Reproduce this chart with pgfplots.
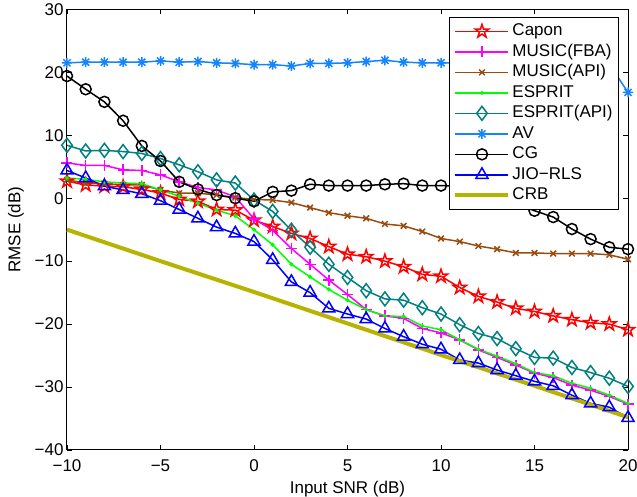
\documentclass[border=0pt]{standalone}
\usepackage{fontspec}
\setmainfont{Liberation Sans}
\usepackage{pgfplots}
\pgfplotsset{compat=1.18}
\usetikzlibrary{plotmarks}
\definecolor{cCapon}{rgb}{1,0,0}
\definecolor{cFBA}{rgb}{1,0,1}
\definecolor{cMAPI}{rgb}{0.6,0.3,0.05}
\definecolor{cESP}{rgb}{0,1,0}
\definecolor{cEAPI}{rgb}{0,0.5,0.5}
\definecolor{cAV}{rgb}{0.08,0.52,1}
\definecolor{cCRB}{rgb}{0.72,0.70,0.0}
\pgfdeclareplotmark{ast8}{%
  \pgfpathmoveto{\pgfqpoint{0pt}{\pgfplotmarksize}}\pgfpathlineto{\pgfqpoint{0pt}{-\pgfplotmarksize}}%
  \pgfpathmoveto{\pgfqpoint{\pgfplotmarksize}{0pt}}\pgfpathlineto{\pgfqpoint{-\pgfplotmarksize}{0pt}}%
  \pgfpathmoveto{\pgfqpoint{.707\pgfplotmarksize}{.707\pgfplotmarksize}}\pgfpathlineto{\pgfqpoint{-.707\pgfplotmarksize}{-.707\pgfplotmarksize}}%
  \pgfpathmoveto{\pgfqpoint{-.707\pgfplotmarksize}{.707\pgfplotmarksize}}\pgfpathlineto{\pgfqpoint{.707\pgfplotmarksize}{-.707\pgfplotmarksize}}%
  \pgfusepathqstroke}
\pgfdeclareplotmark{pentagram}{%
  \pgfpathmoveto{\pgfqpoint{0pt}{1\pgfplotmarksize}}%
  \pgfpathlineto{\pgfqpoint{-0.2245\pgfplotmarksize}{0.3090\pgfplotmarksize}}%
  \pgfpathlineto{\pgfqpoint{-0.9511\pgfplotmarksize}{0.3090\pgfplotmarksize}}%
  \pgfpathlineto{\pgfqpoint{-0.3633\pgfplotmarksize}{-0.1180\pgfplotmarksize}}%
  \pgfpathlineto{\pgfqpoint{-0.5878\pgfplotmarksize}{-0.8090\pgfplotmarksize}}%
  \pgfpathlineto{\pgfqpoint{0pt}{-0.382\pgfplotmarksize}}%
  \pgfpathlineto{\pgfqpoint{0.5878\pgfplotmarksize}{-0.8090\pgfplotmarksize}}%
  \pgfpathlineto{\pgfqpoint{0.3633\pgfplotmarksize}{-0.1180\pgfplotmarksize}}%
  \pgfpathlineto{\pgfqpoint{0.9511\pgfplotmarksize}{0.3090\pgfplotmarksize}}%
  \pgfpathlineto{\pgfqpoint{0.2245\pgfplotmarksize}{0.3090\pgfplotmarksize}}%
  \pgfpathclose
  \pgfusepathqstroke}
\begin{document}
\begin{tikzpicture}
\begin{axis}[
  name=ax, at={(0,0)}, anchor=south west,
  scale only axis, width=561pt, height=440.7pt,
  font=\fontsize{17}{20}\selectfont,
  xmin=-10, xmax=20, ymin=-40, ymax=30,
  xtick={-10,-5,0,5,10,15,20},
  xticklabels={−10,−5,0,5,10,15,20},
  ytick={-40,-30,-20,-10,0,10,20,30},
  yticklabels={−40,−30,−20,−10,0,10,20,30},
  xticklabel style={anchor=base, yshift=-21.7pt},
  axis line style={line width=1pt, black},
  tick style={line width=0.9pt, black},
  major tick length=5pt,
  xlabel={Input SNR (dB)},
  ylabel={RMSE (dB)},
  xlabel style={at={(axis description cs:0.5,0)}, anchor=base, yshift=-43.3pt},
  ylabel style={at={(axis description cs:-0.0909,0.5)}, anchor=center},
  clip=false,
  every axis plot/.append style={line width=1.5pt},
  legend image code/.code={\draw[mark repeat=2,mark phase=2,#1] plot coordinates {(0pt,0pt) (26.5pt,0pt) (53pt,0pt)};},
  legend cell align=left,
  legend style={at={(1,1)}, anchor=north east, xshift=-9pt, yshift=-7.4pt,
    draw=black, line width=0.8pt, inner sep=4pt, row sep=0pt,
    font=\fontsize{17}{20}\selectfont,
    nodes={inner sep=2pt, text height=12.5pt, text depth=4pt}},
]
\addplot[color=cCapon, mark=pentagram, mark size=7pt] coordinates {
(-10,2.7) (-9,2.1) (-8,1.9) (-7,1.8) (-6,1.4) (-5,0.8) (-4,-0.2) (-3,-0.5) (-2,-1.8) (-1,-1.9)
(0,-3.5) (1,-4.5) (2,-5.6) (3,-6.4) (4,-7.7) (5,-8.9) (6,-9.3) (7,-10.0) (8,-10.9) (9,-12.1)
(10,-12.4) (11,-14.2) (12,-15.6) (13,-16.5) (14,-17.5) (15,-18.0) (16,-18.7) (17,-19.3) (18,-19.8) (19,-20.0) (20,-20.9)};
\addlegendentry{Capon}
\addplot[color=cFBA, mark=+, mark size=5.5pt] coordinates {
(-10,5.6) (-9,5.2) (-8,5.2) (-7,4.5) (-6,4.4) (-5,3.7) (-4,2.6) (-3,1.7) (-2,1.3) (-1,0.2)
(0,-3.3) (1,-5.1) (2,-8.0) (3,-10.5) (4,-13.0) (5,-15.3) (6,-17.7) (7,-18.7) (8,-19.1) (9,-20.7)
(10,-21.4) (11,-22.5) (12,-24.1) (13,-25.3) (14,-26.5) (15,-27.8) (16,-28.5) (17,-29.7) (18,-30.5) (19,-31.5) (20,-32.7)};
\addlegendentry{MUSIC(FBA)}
\addplot[color=cMAPI, mark=x, mark size=4pt] coordinates {
(-10,2.9) (-9,2.4) (-8,2.3) (-7,2.1) (-6,2.1) (-5,1.3) (-4,0.8) (-3,0.8) (-2,0.5) (-1,0.1)
(0,-0.2) (1,-0.3) (2,-0.7) (3,-1.5) (4,-2.3) (5,-2.8) (6,-3.2) (7,-4.1) (8,-4.4) (9,-5.3)
(10,-6.4) (11,-6.9) (12,-7.6) (13,-8.1) (14,-8.7) (15,-8.7) (16,-8.8) (17,-8.8) (18,-8.8) (19,-9.0) (20,-9.7)};
\addlegendentry{MUSIC(API)}
\addplot[color=cESP, mark=*, mark size=1.2pt] coordinates {
(-10,3.2) (-9,3.0) (-8,2.6) (-7,2.4) (-6,2.3) (-5,1.3) (-4,0.3) (-3,-0.8) (-2,-1.9) (-1,-2.8)
(0,-5.0) (1,-7.4) (2,-10.5) (3,-12.5) (4,-14.5) (5,-16.2) (6,-17.7) (7,-18.7) (8,-18.8) (9,-20.3)
(10,-20.9) (11,-22.5) (12,-24.0) (13,-25.1) (14,-26.3) (15,-27.7) (16,-28.2) (17,-29.4) (18,-30.2) (19,-31.3) (20,-32.6)};
\addlegendentry{ESPRIT}
\addplot[color=cEAPI, mark=diamond, mark size=7pt] coordinates {
(-10,8.4) (-9,7.5) (-8,7.6) (-7,7.4) (-6,7.1) (-5,6.3) (-4,5.3) (-3,4.2) (-2,2.9) (-1,2.4)
(0,-0.3) (1,-2.1) (2,-5.1) (3,-7.8) (4,-10.5) (5,-12.6) (6,-14.7) (7,-16.0) (8,-16.2) (9,-17.4)
(10,-18.4) (11,-20.1) (12,-21.5) (13,-22.3) (14,-23.9) (15,-25.3) (16,-25.4) (17,-26.9) (18,-27.7) (19,-28.6) (20,-29.9)};
\addlegendentry{ESPRIT(API)}
\addplot[color=cAV, mark=ast8, mark size=5pt] coordinates {
(-10,21.5) (-9,21.6) (-8,21.6) (-7,21.6) (-6,21.6) (-5,21.8) (-4,21.6) (-3,21.7) (-2,21.5) (-1,21.4)
(0,21.2) (1,21.2) (2,21.0) (3,21.4) (4,21.4) (5,21.5) (6,21.7) (7,21.9) (8,21.6) (9,21.5)
(10,21.5) (11,21.5) (12,21.4) (13,21.5) (14,21.4) (15,21.5) (16,21.4) (17,21.5) (18,21.4) (19,21.3) (20,16.8)};
\addlegendentry{AV}
\addplot[color=black, mark=o, mark size=5.5pt] coordinates {
(-10,19.4) (-9,17.3) (-8,15.3) (-7,12.3) (-6,8.3) (-5,5.9) (-4,2.6) (-3,1.4) (-2,0.5) (-1,0.0)
(0,-0.5) (1,1.0) (2,1.2) (3,2.2) (4,2.0) (5,2.0) (6,2.0) (7,2.2) (8,2.3) (9,2.0)
(10,2.0) (11,1.9) (12,1.4) (13,0.4) (14,-0.8) (15,-2.0) (16,-3.0) (17,-4.9) (18,-6.5) (19,-7.8) (20,-8.1)};
\addlegendentry{CG}
\addplot[color=blue, mark=triangle, mark size=7pt] coordinates {
(-10,4.4) (-9,3.2) (-8,1.9) (-7,1.3) (-6,0.7) (-5,-0.4) (-4,-1.8) (-3,-3.2) (-2,-4.6) (-1,-5.6)
(0,-6.9) (1,-9.8) (2,-13.3) (3,-15.0) (4,-17.5) (5,-18.4) (6,-19.2) (7,-20.7) (8,-22.0) (9,-23.2)
(10,-24.0) (11,-25.7) (12,-26.2) (13,-27.3) (14,-28.2) (15,-29.1) (16,-29.8) (17,-31.3) (18,-32.6) (19,-33.2) (20,-34.9)};
\addlegendentry{JIO−RLS}
\addplot[color=cCRB, line width=4pt, no marks] coordinates {
(-10,-5.0) (-5,-10.0) (0,-14.9) (5,-19.9) (10,-24.9) (15,-29.8) (20,-34.8)};
\addlegendentry{CRB}
\end{axis}
\pgfresetboundingbox
\useasboundingbox (-67pt,-47pt) rectangle (570pt,450pt);
\end{tikzpicture}
\end{document}
